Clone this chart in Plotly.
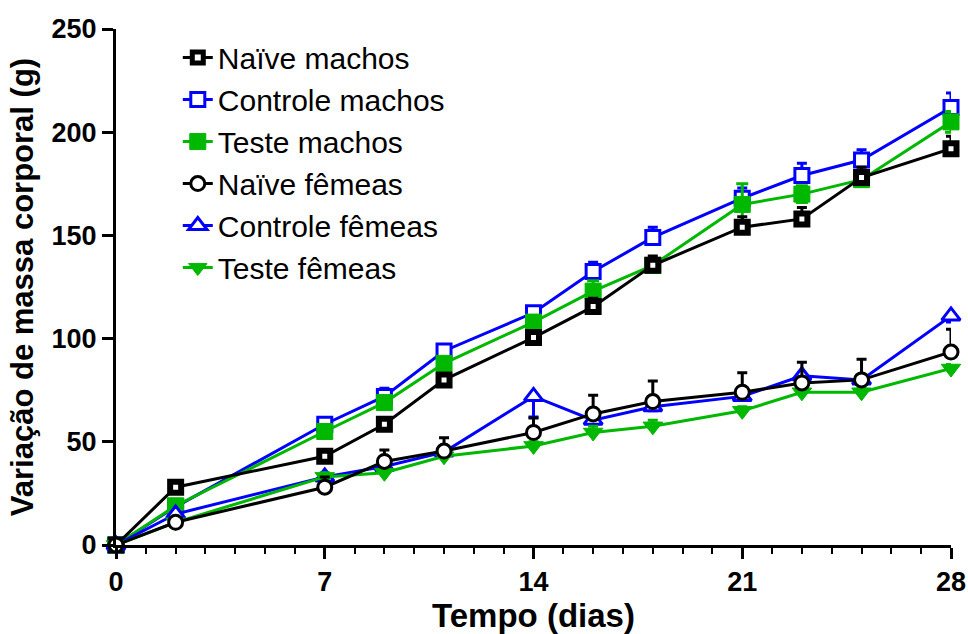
import plotly.graph_objects as go

days = [0, 2, 7, 9, 11, 14, 16, 18, 21, 23, 25, 28]

naive_machos = [0, 28, 43, 58.5, 80, 100.5, 115.5, 135.5, 154, 158, 178, 192]
naive_machos_err = [0, 2, 2, 3, 3, 3, 4, 4.5, 5, 5.5, 5, 6]

controle_machos = [0, 18.5, 58.5, 72, 94, 112.5, 132.5, 149, 168, 179, 186.5, 212]
controle_machos_err = [0, 2, 2, 4, 3, 3, 4.5, 5, 5, 6, 5, 7]

teste_machos = [0, 19, 55, 69, 88, 108, 123, 135.5, 165, 170, 177, 205]
teste_machos_err = [0, 2, 2, 2, 2, 3, 5, 3, 10, 4, 3, 5]

naive_femeas = [0, 11, 28, 40.5, 45.5, 54.5, 63.5, 69.5, 74, 78.5, 80, 93.5]
naive_femeas_err = [0, 1, 5, 5.5, 6.5, 7, 9, 10, 9.5, 10, 10, 11]

controle_femeas = [0, 15, 33, 38, 45, 72, 60.5, 67, 72, 82, 80, 111]
controle_femeas_err = [0, 2, 2, 2, 2, 10, 2, 2, 2, 2, 2, 3]

teste_femeas = [0, 11, 33, 35, 43, 48, 54.5, 57.5, 65, 74, 74, 85.5]
teste_femeas_err = [0, 1, 2, 2, 2, 2, 3, 3, 2, 2, 2, 2]

x_ticks = [0, 7, 14, 21, 28]
y_ticks = [0, 50, 100, 150, 200, 250]

BLACK = "#000000"
BLUE = "#0000FF"
GREEN = "#00B800"
FONT = "Liberation Sans, Arial, sans-serif"

fig = go.Figure()


def add(name, y, err, color, symbol, size, fill, lw, rank, mode="up"):
    zeros = [0] * len(err)
    if mode == "up":
        ey = dict(type="data", symmetric=False, array=err, arrayminus=zeros,
                  color=color, thickness=3, width=5)
    elif mode == "down":
        ey = dict(type="data", symmetric=False, array=zeros, arrayminus=err,
                  color=color, thickness=3, width=5)
    else:
        ey = dict(type="data", symmetric=True, array=err,
                  color=color, thickness=3, width=6)
    fig.add_trace(go.Scatter(
        x=days, y=y, name=name, mode="lines+markers",
        line=dict(color=color, width=3),
        marker=dict(symbol=symbol, size=size, color=fill,
                    line=dict(color=color, width=lw)),
        error_y=ey, cliponaxis=False, legendrank=rank,
    ))


add("Controle machos", controle_machos, controle_machos_err, BLUE, "square", 14, "white", 3, 2)
add("Teste machos", teste_machos, teste_machos_err, GREEN, "square", 16, GREEN, 1, 3, mode="both")
add("Naïve machos", naive_machos, naive_machos_err, BLACK, "square", 11, "white", 6, 1)
add("Controle fêmeas", controle_femeas, controle_femeas_err, BLUE, "triangle-up", 16, "white", 3, 5, mode="down")
add("Teste fêmeas", teste_femeas, teste_femeas_err, GREEN, "triangle-down", 17, GREEN, 1, 6)
add("Naïve fêmeas", naive_femeas, naive_femeas_err, BLACK, "circle", 14, "white", 3, 4)

fig.update_layout(
    width=968, height=634,
    margin=dict(l=116, r=17, t=29, b=89),
    paper_bgcolor="white", plot_bgcolor="white",
    font=dict(family=FONT, color="black"),
    showlegend=True,
    legend=dict(
        x=0.074, y=0.995, xanchor="left", yanchor="top",
        bgcolor="rgba(0,0,0,0)", font=dict(size=30, family=FONT),
        traceorder="normal", itemsizing="trace",
    ),
    xaxis=dict(
        range=[0, 28], tickvals=x_ticks, ticktext=[str(v) for v in x_ticks],
        showline=True, linecolor="black", linewidth=3,
        ticks="outside", ticklen=11, tickwidth=3, tickcolor="black",
        minor=dict(dtick=1, ticks="outside", ticklen=6, tickwidth=2, tickcolor="black", showgrid=False),
        showgrid=False, zeroline=False, automargin=False,
        tickfont=dict(size=27, family=FONT, weight="bold"),
        title=dict(text="<b>Tempo (dias)</b>", font=dict(size=33, family=FONT), standoff=6),
    ),
    yaxis=dict(
        range=[0, 250], tickvals=y_ticks, ticktext=[str(v) for v in y_ticks],
        showline=True, linecolor="black", linewidth=3,
        ticks="outside", ticklen=11, tickwidth=3, tickcolor="black",
        showgrid=False, zeroline=False, automargin=False,
        tickfont=dict(size=27, family=FONT, weight="bold"),
        title=dict(text="<b>Variação de massa corporal (g)</b>", font=dict(size=31, family=FONT), standoff=9),
    ),
)

fig.write_html("out.html")
